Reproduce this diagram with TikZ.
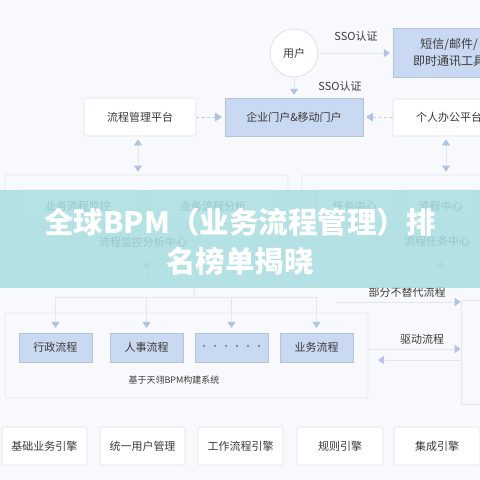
\documentclass[tikz,border=0pt]{standalone}
\usepackage{fontspec}
\setmainfont{Noto Sans CJK SC}
\newfontfamily\titlefont{Noto Sans CJK SC}
\usetikzlibrary{arrows.meta}
\definecolor{bg}{HTML}{F8F9FC}
\definecolor{bluefill}{HTML}{C9D9F1}
\definecolor{boxline}{HTML}{DCE2EB}
\definecolor{faint}{HTML}{E2E7EF}
\definecolor{tri}{HTML}{AFC3E2}
\definecolor{dashc}{HTML}{BCC8DA}
\definecolor{txt}{HTML}{3A3A3A}
\definecolor{banner}{HTML}{A9DEE0}
\begin{document}
\begin{tikzpicture}[x=1pt,y=-1pt,
  every node/.style={text=txt, font=\fontsize{11}{13}\selectfont, inner sep=0pt},
  wbox/.style={draw=boxline, fill=white, line width=0.7pt, rounded corners=1.5pt},
  bbox/.style={fill=bluefill, draw=bluefill!90!black, line width=0.3pt},
  grp/.style={draw=faint, line width=0.7pt, rounded corners=2pt},
  tipline/.style={draw=faint, line width=0.7pt, -{Triangle[width=8pt,length=6pt,color=tri]}},
  dashline/.style={draw=dashc, line width=0.7pt, dash pattern=on 3pt off 2.5pt, shorten >=3pt, -{Triangle[width=9pt,length=7pt,color=tri]}},
  dbl/.style={draw=faint, line width=0.7pt, shorten >=3pt, shorten <=3pt, {Triangle[width=8pt,length=6pt,color=tri]}-{Triangle[width=8pt,length=6pt,color=tri]}}
]
\useasboundingbox (0,0) rectangle (480,480);
\clip (0,0) rectangle (480,480);
\fill[bg] (0,0) rectangle (480,480);

% top area
\node[circle, draw=boxline, fill=white, minimum size=48pt, line width=0.8pt] (user) at (294,53) {用户};
\node[bbox, minimum width=112pt, minimum height=49pt, align=center, font=\fontsize{12}{17}\selectfont] (msg) at (449,52.5) {短信/邮件/\\即时通讯工具};
\node[bbox, minimum width=138pt, minimum height=38pt] (portal) at (294,117) {企业门户\&移动门户};
\node[wbox, minimum width=112pt, minimum height=38pt] (plat) at (140,117) {流程管理平台};
\node[wbox, minimum width=112pt, minimum height=37pt] (pers) at (449,117.5) {个人办公平台};
\node (sso1) at (356,36) {SSO认证};
\node (sso2) at (340,86) {SSO认证};

\draw[tipline, shorten >=3pt] (user.east) -- (user.east -| msg.west);
\draw[tipline, shorten >=3pt] (user.south) -- (portal.north);
\draw[dashline] (plat.east) -- (portal.west);
\draw[dashline] (pers.west) -- (portal.east);

% middle groups
\node[grp, minimum width=283pt, minimum height=83pt] (lgrp) at (146.5,216.5) {};
\node[grp, minimum width=198pt, minimum height=83pt] (rgrp) at (401,216.5) {};
\node[wbox, minimum width=122pt, minimum height=33pt] (mon) at (78,206.5) {业务流程监控};
\node[wbox, minimum width=124pt, minimum height=33pt] (ana) at (213,206.5) {业务流程分析};
\node[wbox, minimum width=77pt, minimum height=33pt] (task) at (354.5,206.5) {任务中心};
\node[wbox, minimum width=75pt, minimum height=33pt] (flow) at (440.5,206.5) {流程中心};
\node (lgl) at (143,242) {流程监控分析中心};
\node (rgl) at (437,241) {流程任务中心};

\draw[dbl] ([xshift=-2pt]plat.south) -- ([xshift=-2pt]plat.south |- lgrp.north);
\draw[dbl] ([xshift=-3pt]pers.south) -- ([xshift=-3pt]pers.south |- rgrp.north);

% flows container
\node[grp, minimum width=363pt, minimum height=85pt] (cont) at (186.5,355.5) {};
\node[bbox, minimum width=73pt, minimum height=29pt] (f1) at (55.5,347.5) {行政流程};
\node[bbox, minimum width=73pt, minimum height=29pt] (f2) at (146.5,347.5) {人事流程};
\node[bbox, minimum width=73pt, minimum height=29pt, text=txt!60] (f3) at (231.5,347.5) {······};
\node[bbox, minimum width=73pt, minimum height=29pt] (f4) at (316.5,347.5) {业务流程};
\node[font=\fontsize{9}{11}\selectfont] (sys) at (174,380) {基于天翎BPM构建系统};

\coordinate (barL) at (55.5,297);
\coordinate (barR) at (316.5,297);
\draw[faint, line width=0.7pt] (barL) -- (barR);
\draw[tipline, shorten >=5pt] (f1.north |- barL) -- (f1.north);
\draw[tipline, shorten >=5pt] (f2.north |- barL) -- (f2.north);
\draw[tipline, shorten >=5pt] (f3.north |- barL) -- (f3.north);
\draw[tipline, shorten >=5pt] (f4.north |- barL) -- (f4.north);
\coordinate (lj) at (194,297);
\coordinate (lup) at (147,258);
\draw[tipline, shorten >=3pt] (lj) -- (194,280) -| (lup);

% right side
\node[draw=faint, line width=0.7pt, minimum width=60pt, minimum height=104pt] (ext) at (491,352) {};
\node (part) at (407,292) {部分不替代流程};
\node (drive) at (422,339) {驱动流程};
\coordinate (ps) at (336,302);
\draw[tipline] (ps) -- (ps -| ext.west);
\coordinate (d1) at (368,349);
\draw[tipline] (d1) -- (d1 -| ext.west);
\coordinate (d2) at (368,360);
\draw[tipline, shorten >=10pt] (d2 -| ext.west) -- (d2);
\coordinate (rup) at (441,258);
\draw[tipline, shorten >=3pt] (part.north -| rup) -- (rup);

% bottom engines
\node[wbox, minimum width=85pt, minimum height=38pt] (e1) at (44.5,446) {基础业务引擎};
\node[wbox, minimum width=85pt, minimum height=38pt] (e2) at (142.5,446) {统一用户管理};
\node[wbox, minimum width=85pt, minimum height=38pt] (e3) at (240.5,446) {工作流程引擎};
\node[wbox, minimum width=86pt, minimum height=38pt] (e4) at (340,446) {规则引擎};
\node[wbox, minimum width=86pt, minimum height=38pt] (e5) at (437,446) {集成引擎};

% banner
\fill[banner, opacity=0.86] (0,190) rectangle (480,288);
\node[text=white, font=\titlefont\bfseries\fontsize{29.5}{32}\selectfont] (t1) at (240,222) {全球BPM（业务流程管理）排};
\node[text=white, font=\titlefont\bfseries\fontsize{29.5}{32}\selectfont] (t2) at (240,261) {名榜单揭晓};
\end{tikzpicture}
\end{document}
